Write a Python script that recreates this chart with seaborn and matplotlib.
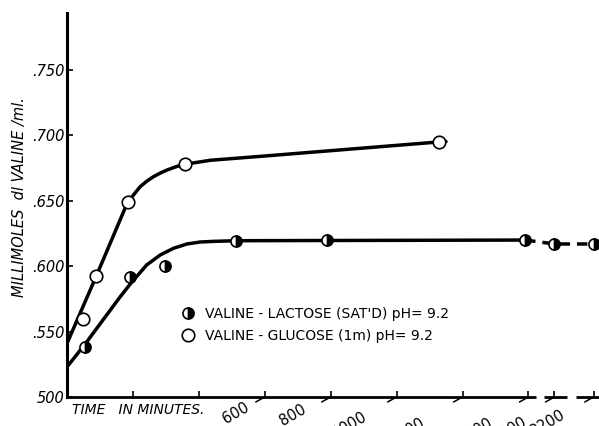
import numpy as np
import matplotlib
matplotlib.use("Agg")
import matplotlib.pyplot as plt
import matplotlib.transforms as mtrans
from matplotlib.lines import Line2D
import seaborn as sns

# ---------------- data ----------------
lactose_t = [55, 191, 298, 514, 790, 1390, 1800, 2200]
lactose_v = [0.5385, 0.592, 0.6004, 0.6195, 0.620, 0.620, 0.617, 0.617]
glucose_t = [50, 88, 184, 359, 1128]
glucose_v = [0.560, 0.5925, 0.649, 0.678, 0.695]

lactose_curve_t = [0, 55, 161, 197, 242, 283, 323, 364, 404, 445, 514, 1390]
lactose_curve_v = [0.523, 0.5405, 0.5765, 0.588, 0.601, 0.6086, 0.6137, 0.617, 0.6185, 0.619, 0.6195, 0.620]
lactose_dash_t = [1390, 1800, 2200]
lactose_dash_v = [0.620, 0.617, 0.617]
glucose_curve_t = [0, 88, 184, 205, 222, 242, 262, 283, 303, 330, 359, 435, 587, 1128, 1150]
glucose_curve_v = [0.541, 0.592, 0.649, 0.6555, 0.6608, 0.665, 0.6684, 0.6712, 0.6735, 0.676, 0.678, 0.681, 0.684, 0.695, 0.6953]

x_ticks = [200, 400, 600, 800, 1000, 1200, 1400, 1800, 2200]
x_labeled = [600, 800, 1000, 1200, 1400, 1800, 2200]
x_labels = ["600", "800", "1000", "1200", "1400", "1800", "2200"]
y_ticks = [0.500, 0.550, 0.600, 0.650, 0.700, 0.750]
y_labels = ["500", ".550", ".600", ".650", ".700", ".750"]

lactose_label = "VALINE - LACTOSE (SAT'D) pH= 9.2"
glucose_label = "VALINE - GLUCOSE (1m) pH= 9.2"

# broken time axis (piecewise linear scale)
brk_t = [0, 1400, 1800, 2200, 3000]
brk_p = [0, 1400, 1479, 1598, 1836]

def fwd(t):
    return np.interp(t, brk_t, brk_p)

def inv(p):
    return np.interp(p, brk_p, brk_t)

# ---------------- figure ----------------
sns.set_theme(style="white")
plt.rcParams['font.family'] = ['DejaVu Sans']
for k in ['text.color', 'axes.labelcolor', 'xtick.color', 'ytick.color', 'axes.edgecolor']:
    plt.rcParams[k] = 'black'
W, H = 599, 426
fig = plt.figure(figsize=(W / 100, H / 100), dpi=100)
ax = fig.add_axes([67 / W, 1 - 397 / H, (599 - 67) / W, (397 - 13) / H])
ax.set_xscale('function', functions=(fwd, inv))
ax.set_xlim(0, 2254)
ax.set_ylim(0.5, 0.7936)

lw = 2.5
sns.lineplot(x=lactose_curve_t, y=lactose_curve_v, ax=ax, color='black', lw=lw,
             sort=False, estimator=None)
sns.lineplot(x=lactose_dash_t, y=lactose_dash_v, ax=ax, color='black', lw=lw,
             sort=False, estimator=None, linestyle=(0, (3, 2)))
sns.lineplot(x=glucose_curve_t, y=glucose_curve_v, ax=ax, color='black', lw=lw,
             sort=False, estimator=None)

sns.lineplot(x=lactose_t, y=lactose_v, ax=ax, linestyle='', marker='o', markersize=8,
             fillstyle='right', markerfacecolor='black', markerfacecoloralt='white',
             markeredgecolor='black', markeredgewidth=1.2, sort=False, estimator=None,
             color='black', zorder=5)
sns.lineplot(x=glucose_t, y=glucose_v, ax=ax, linestyle='', marker='o', markersize=9,
             markerfacecolor='white', markeredgecolor='black', markeredgewidth=1.2,
             sort=False, estimator=None, color='black', zorder=5)

# spines
for s in ['top', 'right', 'bottom']:
    ax.spines[s].set_visible(False)
ax.spines['left'].set_linewidth(2.2)
ax.spines['left'].set_color('black')
trans = mtrans.blended_transform_factory(ax.transData, ax.transAxes)
for seg in [(0, 1510), (1640, 1930), (2020, 2254)]:
    ax.plot(seg, [0, 0], transform=trans, color='black', lw=2.0, clip_on=False,
            solid_capstyle='butt')

ax.set_xticks(x_ticks)
ax.set_xticklabels([])
ax.set_yticks(y_ticks)
ax.set_yticklabels(y_labels, fontstyle='italic', fontsize=10.5)
ax.tick_params(axis='both', direction='in', length=4, width=1.2, color='black')
ax.tick_params(axis='y', pad=2)
ax.tick_params(axis='x', bottom=True)
ax.tick_params(axis='y', left=True)
ax.set_xlabel('')
ax.set_ylabel('')

# rotated x labels (the reference crops the later ones at the bottom edge)
label_offsets = [(-29, -16), (-38, -18), (-47, -28), (-55, -34), (-53, -34), (-45, -33), (-46, -26)]
for t, lab, (dx, dy) in zip(x_labeled, x_labels, label_offsets):
    ax.annotate(lab, xy=(t, 0), xycoords=trans, xytext=(dx, dy), textcoords='offset pixels',
                rotation=30, ha='center', va='center', fontsize=10.5, annotation_clip=False)
    ax.annotate('', xy=(t, 0), xycoords=trans, xytext=(-9, -5), textcoords='offset pixels',
                arrowprops=dict(arrowstyle='-', lw=1.1, color='black',
                                shrinkA=0, shrinkB=0), annotation_clip=False)

fig.text(72 / W, 1 - 410 / H, 'TIME   IN MINUTES.', fontstyle='italic', fontsize=10,
         ha='left', va='center')
fig.text(20 / W, 1 - 197 / H, 'MILLIMOLES  dl VALINE /ml.', fontstyle='italic',
         fontsize=10.5, rotation=90, ha='center', va='center')

h1 = Line2D([], [], linestyle='', marker='o', markersize=8, fillstyle='right',
            markerfacecolor='black', markerfacecoloralt='white', markeredgecolor='black',
            markeredgewidth=1.2)
h2 = Line2D([], [], linestyle='', marker='o', markersize=9, markerfacecolor='white',
            markeredgecolor='black', markeredgewidth=1.2)
leg = ax.legend([h1, h2], [lactose_label, glucose_label], loc='upper left',
                bbox_to_anchor=(173 / W, 1 - 300 / H), bbox_transform=fig.transFigure,
                frameon=False, borderpad=0, handlelength=1.2, handletextpad=0.6,
                labelspacing=0.55, fontsize=10)
for txt in leg.get_texts():
    txt.set_color('black')

fig.savefig('out.png', dpi=100)
